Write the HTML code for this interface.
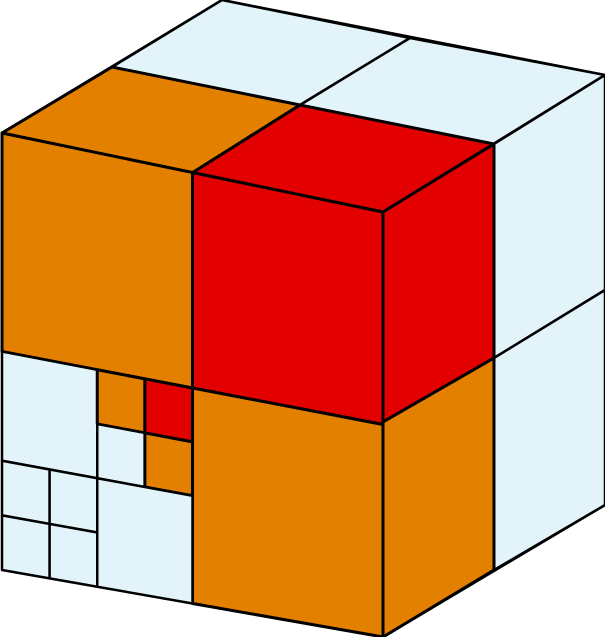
<!DOCTYPE html>
<html><head><meta charset="utf-8"><style>
html,body{margin:0;padding:0;background:#fff;width:605px;height:637px;overflow:hidden}
svg{display:block}
</style></head><body>
<svg id="cube" width="605" height="637" viewBox="0 0 605 637" xmlns="http://www.w3.org/2000/svg"></svg>
<script>
const BLUE="#e2f4f9", ORANGE="#e38000", RED="#e30000";
const F=[[2,133],[383,212],[383,637],[2,570]];
function fp(u,v){
  const tx=F[0][0]+(F[1][0]-F[0][0])*u, ty=F[0][1]+(F[1][1]-F[0][1])*u;
  const bx=F[3][0]+(F[2][0]-F[3][0])*u, by=F[3][1]+(F[2][1]-F[3][1])*u;
  return [tx+(bx-tx)*v, ty+(by-ty)*v];
}
const svg=document.getElementById('cube');
function poly(pts,fill,name){
  const p=document.createElementNS('http://www.w3.org/2000/svg','polygon');
  p.setAttribute('points',pts.map(q=>q.join(',')).join(' '));
  p.setAttribute('fill',fill);
  p.setAttribute('stroke','#000');
  p.setAttribute('stroke-width',fill===BLUE?'2.5':'3');
  p.setAttribute('stroke-linejoin','round');
  
  
  svg.appendChild(p);
}
function fq(u0,v0,u1,v1,fill,name){poly([fp(u0,v0),fp(u1,v0),fp(u1,v1),fp(u0,v1)],fill,name);}
const M=[494,144];
poly([[2,133],[222,0],[605,75],[383,212]],BLUE,'top-face');
poly([[112,67],[222,0],[410,38],[300,105]],BLUE,'top-back-left');
poly([[300,105],[410,38],[605,75],M],BLUE,'top-back-right');
poly([[2,133],[112,67],[300,105],[192,173]],ORANGE,'top-front-left');
poly([[192,173],[300,105],M,[383,212]],RED,'top-front-right');
poly([[383,212],[605,75],[605,505],[383,637]],BLUE,'right-face');
poly([M,[605,75],[605,290],[494,358]],BLUE,'right-top-back');
poly([[494,358],[605,290],[605,505],[494,570]],BLUE,'right-bottom-back');
poly([[383,212],M,[494,358],[383,422]],RED,'right-top-front');
poly([[383,422],[494,358],[494,570],[383,637]],ORANGE,'right-bottom-front');
fq(0,0,0.5,0.5,ORANGE,'front-top-left');
fq(0.5,0,1,0.5,RED,'front-top-right');
fq(0.5,0.5,1,1,ORANGE,'front-bottom-right');
fq(0,0.5,0.25,0.75,BLUE,'sub-top-left');
fq(0.25,0.5,0.375,0.625,ORANGE,'subsub-a');
fq(0.375,0.5,0.5,0.625,RED,'subsub-b');
fq(0.25,0.625,0.375,0.75,BLUE,'subsub-c');
fq(0.375,0.625,0.5,0.75,ORANGE,'subsub-d');
fq(0,0.75,0.125,0.875,BLUE,'subsub-e');
fq(0.125,0.75,0.25,0.875,BLUE,'subsub-f');
fq(0,0.875,0.125,1,BLUE,'subsub-g');
fq(0.125,0.875,0.25,1,BLUE,'subsub-h');
fq(0.25,0.75,0.5,1,BLUE,'sub-bottom-right');
</script>
</body></html>
